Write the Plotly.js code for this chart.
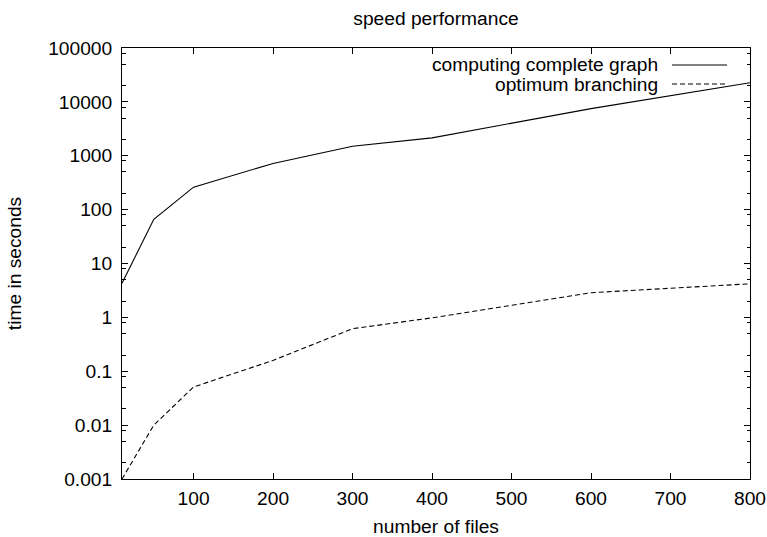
<!DOCTYPE html>
<html>
<head>
<meta charset="utf-8">
<script src="https://cdn.plot.ly/plotly-3.0.1.min.js"></script>
<style>html,body{margin:0;padding:0;background:#fff;}#chart{width:767px;height:537px;}</style>
</head>
<body>
<div id="chart"></div>
<script>
// Data
var files = [10, 50, 100, 200, 300, 400, 600, 800];
var completeGraph = [4.3, 66, 261, 720, 1500, 2150, 7500, 22600];
var optimumBranching = [0.001, 0.01, 0.051, 0.159, 0.616, 0.98, 2.87, 4.2];

var seriesNames = ["computing complete graph", "optimum branching"];
var titleText = "speed performance";
var xTitle = "number of files";
var yTitle = "time in seconds";

var xTickVals = [100, 200, 300, 400, 500, 600, 700, 800];
var yTickVals = [0.001, 0.01, 0.1, 1, 10, 100, 1000, 10000, 100000];
var yTickText = ["0.001", "0.01", "0.1", "1", "10", "100", "1000", "10000", "100000"];
var yMinorMult = [2, 5, 8];

var yMinorVals = [];
for (var i = 0; i < yTickVals.length - 1; i++) {
  for (var j = 0; j < yMinorMult.length; j++) {
    yMinorVals.push(yTickVals[i] * yMinorMult[j]);
  }
}

var FONT = "Liberation Sans, Arial, Helvetica, sans-serif";
var FS = 19.2;

var traces = [
  {x: files, y: completeGraph, type: "scatter", mode: "lines", name: seriesNames[0],
   line: {color: "#000", width: 1.1}, showlegend: false},
  {x: files, y: optimumBranching, type: "scatter", mode: "lines", name: seriesNames[1],
   line: {color: "#000", width: 1.1, dash: "5px,3px"}, showlegend: false}
];

// legend layout in paper coords
var plotL = 122, plotR = 750, plotT = 48, plotB = 479;
function px2x(p) { return (p - plotL) / (plotR - plotL); }
function py2y(p) { return (plotB - p) / (plotB - plotT); }
var legendRows = [65, 84];
var legendDash = ["solid", "5px,3px"];

var annotations = [];
var shapes = [];
for (var k = 0; k < seriesNames.length; k++) {
  annotations.push({
    xref: "paper", yref: "paper", x: px2x(660), y: py2y(legendRows[k]),
    xanchor: "right", yanchor: "middle", text: seriesNames[k], showarrow: false,
    font: {family: FONT, size: FS, color: "#000"}
  });
  shapes.push({
    type: "line", xref: "paper", yref: "paper",
    x0: px2x(672), x1: px2x(727), y0: py2y(legendRows[k]), y1: py2y(legendRows[k]),
    line: {color: "#000", width: 1.1, dash: legendDash[k]}
  });
}

var layout = {
  width: 767, height: 537,
  margin: {l: plotL, r: 767 - plotR, t: plotT, b: 537 - plotB, pad: 0},
  paper_bgcolor: "#fff", plot_bgcolor: "#fff",
  font: {family: FONT, size: FS, color: "#000"},
  title: {text: titleText, x: 0.5 * (plotL + plotR) / 767, xanchor: "center",
          y: 1 - 18 / 537, yanchor: "middle", font: {family: FONT, size: FS, color: "#000"}},
  showlegend: false,
  xaxis: {
    type: "linear", range: [10, 800], tickmode: "array", tickvals: xTickVals,
    ticks: "inside", ticklen: 6, tickwidth: 1, tickcolor: "#000",
    showline: true, linecolor: "#000", linewidth: 1, mirror: "allticks",
    showgrid: false, zeroline: false, ticklabelstandoff: 2,
    tickfont: {family: FONT, size: FS, color: "#000"},
    title: {text: xTitle, font: {family: FONT, size: FS, color: "#000"}, standoff: 16}
  },
  yaxis: {
    type: "log", range: [-3, 5], tickmode: "array", tickvals: yTickVals, ticktext: yTickText,
    ticks: "inside", ticklen: 6, tickwidth: 1, tickcolor: "#000",
    showline: true, linecolor: "#000", linewidth: 1, mirror: "allticks",
    showgrid: false, zeroline: false, ticklabelstandoff: 5,
    tickfont: {family: FONT, size: FS, color: "#000"},
    minor: {tickmode: "array", tickvals: yMinorVals, ticks: "inside", ticklen: 3.5, tickwidth: 1, tickcolor: "#000", showgrid: false},
    title: {text: yTitle, font: {family: FONT, size: FS, color: "#000"}, standoff: 21}
  },
  annotations: annotations,
  shapes: shapes
};

Plotly.newPlot("chart", traces, layout, {displayModeBar: false, staticPlot: true});
</script>
</body>
</html>
